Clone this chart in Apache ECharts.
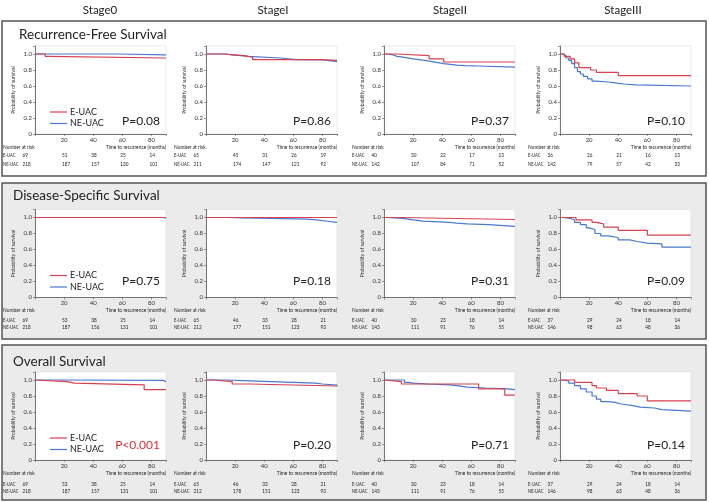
<!DOCTYPE html>
<html><head><meta charset="utf-8">
<script src="https://cdn.jsdelivr.net/npm/echarts@6/dist/echarts.min.js"></script>
<style>html,body{margin:0;padding:0;background:#fff}#c{width:709px;height:502px}</style>
</head><body><div id="c"></div>
<script>
// ---------- DATA ----------
const stages = ['Stage0','StageI','StageII','StageIII'];
const rowTitles = ['Recurrence-Free Survival','Disease-Specific Survival','Overall Survival'];
const groupNames = ['E-UAC','NE-UAC'];
const riskTimes = [0,20,40,60,80];
const xAxisTitle = 'Time to recurrence (months)';
const yAxisTitle = 'Probability of survival';

// Recurrence-free survival [time, survival]
const rfsS0_E  = [[0,1],[7,0.97],[9,0.95],[90,0.95]];
const rfsS0_NE = [[0,1],[57,0.99],[90,0.99]];
const rfsS1_E  = [[0,1],[12,0.99],[19,0.98],[26,0.96],[32,0.93],[72,0.93],[80,0.92],[90,0.92]];
const rfsS1_NE = [[0,1],[14,0.99],[18,0.98],[24,0.97],[29,0.95],[51,0.93],[62,0.925],[80,0.915],[86,0.905],[90,0.905]];
const rfsS2_E  = [[0,1],[9,0.98],[31,0.94],[41,0.90],[90,0.90]];
const rfsS2_NE = [[0,1],[3,0.99],[6,0.97],[9,0.96],[13,0.94],[20,0.93],[24,0.92],[28,0.91],[31,0.89],[38,0.88],[41,0.86],[50,0.855],[56,0.85],[65,0.835],[90,0.835]];
const rfsS3_E  = [[0,1],[3,0.97],[7,0.94],[10,0.89],[13,0.83],[21,0.80],[25,0.77],[40,0.73],[90,0.73]];
const rfsS3_NE = [[0,1],[2,0.98],[4,0.95],[6,0.92],[8,0.88],[10,0.83],[12,0.78],[14,0.75],[16,0.72],[19,0.69],[22,0.66],[25,0.65],[33,0.64],[38,0.625],[44,0.615],[52,0.60],[90,0.595]];

// Disease-specific survival
const dssS0_E  = [[0,1],[90,1]];
const dssS0_NE = [[0,1],[88,0.995],[90,0.995]];
const dssS1_E  = [[0,1],[90,1]];
const dssS1_NE = [[0,1],[15,0.995],[25,0.99],[45,0.98],[70,0.97],[76,0.96],[80,0.95],[85,0.94],[90,0.94]];
const dssS2_E  = [[0,1],[11,0.975],[90,0.975]];
const dssS2_NE = [[0,1],[2,0.99],[13,0.97],[20,0.955],[27,0.94],[45,0.93],[50,0.92],[57,0.91],[72,0.89],[90,0.89]];
const dssS3_E  = [[0,1],[11,0.97],[22,0.94],[25,0.92],[30,0.88],[40,0.84],[60,0.78],[90,0.78]];
const dssS3_NE = [[0,1],[2,0.99],[7,0.97],[10,0.94],[14,0.91],[18,0.87],[20,0.85],[24,0.80],[28,0.77],[33,0.75],[40,0.72],[48,0.70],[53,0.68],[60,0.67],[70,0.63],[90,0.63]];

// Overall survival
const osS0_E  = [[0,1],[1,0.98],[22,0.96],[27,0.94],[75,0.88],[90,0.88]];
const osS0_NE = [[0,1],[16,0.995],[88,0.98],[90,0.98]];
const osS1_E  = [[0,1],[5,0.98],[18,0.95],[30,0.925],[90,0.925]];
const osS1_NE = [[0,1],[15,0.99],[30,0.98],[45,0.96],[75,0.95],[80,0.935],[90,0.925]];
const osS2_E  = [[0,1],[1,0.98],[12,0.95],[65,0.89],[83,0.81],[90,0.81]];
const osS2_NE = [[0,1],[14,0.97],[17,0.96],[20,0.95],[30,0.94],[45,0.93],[50,0.91],[57,0.90],[70,0.89],[85,0.88],[90,0.88]];
const osS3_E  = [[0,1],[10,0.97],[22,0.93],[25,0.90],[32,0.87],[40,0.83],[53,0.80],[60,0.74],[90,0.74]];
const osS3_NE = [[0,1],[2,0.99],[6,0.96],[10,0.93],[14,0.89],[18,0.85],[22,0.80],[25,0.76],[28,0.73],[33,0.72],[38,0.70],[42,0.68],[50,0.66],[55,0.65],[65,0.63],[70,0.61],[90,0.61]];

// Numbers at risk (times 0,20,40,60,80)
const rfsRiskE  = [[69,51,38,25,14],[65,45,31,26,19],[40,30,22,17,13],[36,26,21,16,13]];
const rfsRiskNE = [[218,187,157,130,101],[211,174,147,121,92],[142,107,84,71,52],[142,79,57,42,33]];
const dssRiskE  = [[69,53,38,25,14],[65,46,33,28,21],[40,30,23,18,14],[37,29,24,18,14]];
const dssRiskNE = [[218,187,156,131,101],[212,177,151,123,93],[143,111,91,76,55],[146,98,63,48,36]];
const osRiskE   = [[69,53,38,25,14],[65,46,33,28,21],[40,30,23,18,14],[37,29,24,18,14]];
const osRiskNE  = [[218,187,157,131,101],[212,178,151,123,93],[143,111,91,76,55],[146,98,63,48,36]];

const rfsP = ['P=0.08','P=0.86','P=0.37','P=0.10'];
const dssP = ['P=0.75','P=0.18','P=0.31','P=0.09'];
const osP  = ['P<0.001','P=0.20','P=0.71','P=0.14'];

// ---------- LAYOUT / STYLE ----------
const FONT = 'Lato, "Noto Sans", sans-serif';
const RED = '#d8404f', BLUE = '#4a78d0';
const lefts = [35, 206, 384, 560];
const plotW = 131, plotH = 88;
const zeroY = [134, 297.5, 460];
const headerX = [100, 273, 450, 623];
const boxes = [[2,21,704,155],[2,183,704,156],[2,345,704,155]];
const rowBg = ['#ffffff','#ebebeb','#ebebeb'];
const titleX = [19, 13, 13];
const titleY = [35, 196, 362];
const pOffset = [13, 16, 15];
const rowEOff = [21.5, 22.5, 24];
const rowNEOff = [30, 30, 31.5];

const curves = [
  [[rfsS0_E,rfsS0_NE],[rfsS1_E,rfsS1_NE],[rfsS2_E,rfsS2_NE],[rfsS3_E,rfsS3_NE]],
  [[dssS0_E,dssS0_NE],[dssS1_E,dssS1_NE],[dssS2_E,dssS2_NE],[dssS3_E,dssS3_NE]],
  [[osS0_E,osS0_NE],[osS1_E,osS1_NE],[osS2_E,osS2_NE],[osS3_E,osS3_NE]]
];
const risksE = [rfsRiskE, dssRiskE, osRiskE];
const risksNE = [rfsRiskNE, dssRiskNE, osRiskNE];
const pvals = [rfsP, dssP, osP];

const grids = [], xAxes = [], yAxes = [], series = [];
for (let r = 0; r < 3; r++) {
  for (let c = 0; c < 4; c++) {
    const k = r * 4 + c;
    grids.push({left: lefts[c], top: zeroY[r] - plotH, width: plotW, height: plotH,
      show: true, backgroundColor: '#fff', borderColor: '#dcdcdc', borderWidth: 0.6});
    xAxes.push({gridIndex: k, type: 'value', min: 0, max: 90, interval: 20,
      axisLine: {lineStyle: {color: '#555', width: 0.8}},
      axisTick: {length: 2, lineStyle: {color: '#555', width: 0.6}},
      axisLabel: {fontSize: 6, fontFamily: FONT, color: '#333', margin: 3,
        formatter: v => (v === 0 || v === 90) ? '' : String(v)},
      splitLine: {show: false}});
    yAxes.push({gridIndex: k, type: 'value', min: 0, max: 1.1, interval: 0.2,
      name: yAxisTitle, nameLocation: 'middle', nameGap: 19,
      nameTextStyle: {fontSize: 5, fontFamily: FONT, color: '#333'},
      axisLine: {show: true, lineStyle: {color: '#555', width: 0.8}},
      axisTick: {show: true, length: 2, lineStyle: {color: '#555', width: 0.6}},
      axisLabel: {fontSize: 6, fontFamily: FONT, color: '#333', margin: 3,
        formatter: v => v > 1.001 ? '' : (v === 0 ? '0' : v.toFixed(1))},
      splitLine: {show: false}});
    series.push({type: 'line', name: groupNames[1], xAxisIndex: k, yAxisIndex: k, data: curves[r][c][1],
      step: 'end', showSymbol: false, symbol: 'none', silent: true, lineStyle: {color: BLUE, width: 1.2}});
    series.push({type: 'line', name: groupNames[0], xAxisIndex: k, yAxisIndex: k, data: curves[r][c][0],
      step: 'end', showSymbol: false, symbol: 'none', silent: true, lineStyle: {color: RED, width: 1.2}});
  }
}

const chart = echarts.init(document.getElementById('c'));
chart.setOption({animation: false, backgroundColor: '#fff', grid: grids, xAxis: xAxes, yAxis: yAxes, series: series});

function txt(x, y, text, size, opts) {
  opts = opts || {};
  const el = {type: 'text', x: x, y: y, z: 100, silent: true,
    style: {text: text, fontSize: size, fontFamily: FONT, fill: opts.fill || '#222',
      align: opts.align || 'left', verticalAlign: 'middle',
      textAlign: opts.align || 'left', textVerticalAlign: 'middle'}};
  if (opts.scaleX) el.scaleX = opts.scaleX;
  return el;
}

const g = [];
for (let r = 0; r < 3; r++) {
  const b = boxes[r];
  g.push({type: 'rect', z: -10, silent: true, shape: {x: b[0], y: b[1], width: b[2], height: b[3]},
    style: {fill: rowBg[r], stroke: '#555', lineWidth: 1.5}});
  g.push(txt(titleX[r], titleY[r], rowTitles[r], 13.5, {fill: '#222'}));
}
for (let c = 0; c < 4; c++) g.push(txt(headerX[c], 10, stages[c], 11.5, {align: 'center', fill: '#222'}));

const TS = 5.2;
for (let r = 0; r < 3; r++) {
  const y0 = zeroY[r];
  const L = lefts[0];
  g.push({type: 'line', z: 100, silent: true, shape: {x1: L + 15, y1: y0 - 22, x2: L + 32, y2: y0 - 22}, style: {stroke: RED, lineWidth: 1.2}});
  g.push({type: 'line', z: 100, silent: true, shape: {x1: L + 15, y1: y0 - 10.5, x2: L + 32, y2: y0 - 10.5}, style: {stroke: BLUE, lineWidth: 1.2}});
  g.push(txt(L + 35, y0 - 22, groupNames[0], 9));
  g.push(txt(L + 35, y0 - 10.5, groupNames[1], 9));
  for (let c = 0; c < 4; c++) {
    const k = r * 4 + c;
    const left = lefts[c];
    const pv = pvals[r][c];
    g.push(txt(left + plotW - 6, y0 - pOffset[r], pv, 12, {align: 'right', fill: pv.indexOf('<') >= 0 ? '#d8303a' : '#222'}));
    g.push(txt(left - 32, y0 + 13, 'Number at risk', 5.3, {scaleX: 0.92}));
    g.push(txt(left + plotW, y0 + 13, xAxisTitle, 5.3, {align: 'right', scaleX: 0.92}));
    g.push(txt(left - 32, y0 + rowEOff[r], groupNames[0], TS, {scaleX: 0.8}));
    g.push(txt(left - 32, y0 + rowNEOff[r], groupNames[1], TS, {scaleX: 0.8}));
    riskTimes.forEach((t, i) => {
      const px = t === 0 ? left - 12.5 : chart.convertToPixel({xAxisIndex: k}, t) - 2;
      g.push(txt(px, y0 + rowEOff[r], String(risksE[r][c][i]), TS, {scaleX: 0.9}));
      g.push(txt(px, y0 + rowNEOff[r], String(risksNE[r][c][i]), TS, {scaleX: 0.9}));
    });
  }
}
chart.setOption({graphic: {elements: g}});
</script>
</body></html>
